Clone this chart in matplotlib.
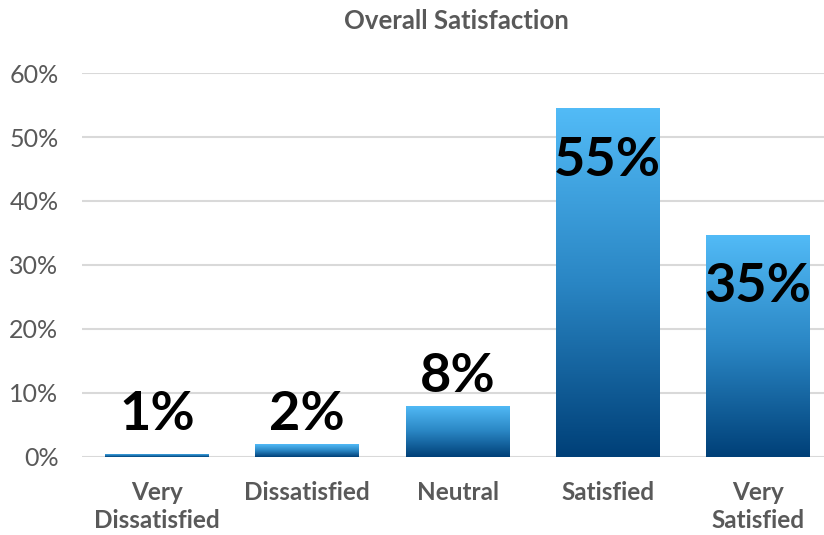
import numpy as np
import matplotlib
matplotlib.use("Agg")
import matplotlib.pyplot as plt
from matplotlib.colors import LinearSegmentedColormap

# data
categories = ["Very\nDissatisfied", "Dissatisfied", "Neutral", "Satisfied", "Very\nSatisfied"]
values = [0.005, 0.02, 0.08, 0.545, 0.347]
labels = ["1%", "2%", "8%", "55%", "35%"]
inside = [False, False, False, True, True]
yticks = [0, 0.1, 0.2, 0.3, 0.4, 0.5, 0.6]

plt.rcParams['font.family'] = ['Lato', 'DejaVu Sans']
gray = '#595959'

fig = plt.figure(figsize=(8.24, 5.35), dpi=100)
ax = fig.add_axes([82 / 824, 78 / 535, 742 / 824, 384 / 535])

cmap = LinearSegmentedColormap.from_list('blu', ['#004078', '#2a86c4', '#52bbf7'])
grad = np.linspace(0, 1, 256).reshape(-1, 1)

x = np.arange(len(categories))
bars = ax.bar(x, values, width=0.69, color='none', zorder=3)
for b in bars:
    x0, y0 = b.get_x(), b.get_y()
    w, h = b.get_width(), b.get_height()
    im = ax.imshow(grad, cmap=cmap, aspect='auto', origin='lower',
                   extent=[x0, x0 + w, y0, y0 + h], zorder=3)
    im.set_clip_path(b)

for xi, v, lab, ins in zip(x, values, labels, inside):
    if ins:
        ax.text(xi, v - 0.043, lab, ha='center', va='top', fontsize=39,
                fontweight='bold', color='black', zorder=5)
    else:
        ax.text(xi, max(v, 0.02) + 0.022, lab, ha='center', va='baseline', fontsize=39,
                fontweight='bold', color='black', zorder=5)

ax.set_xlim(-0.5, 4.44)
ax.set_ylim(0, 0.6)
ax.set_yticks(yticks)
ax.set_yticklabels([f"{int(round(t * 100))}%" for t in yticks])
ax.set_xticks(x)
ax.set_xticklabels(categories, fontweight='bold', linespacing=1.3)
ax.tick_params(axis='y', length=0, labelsize=18, labelcolor=gray, pad=17)
ax.tick_params(axis='x', length=0, labelsize=17.5, labelcolor=gray, pad=17)
ax.grid(axis='y', color='#d9d9d9', linewidth=1.5, zorder=0)
for s in ax.spines.values():
    s.set_visible(False)
ax.set_axisbelow(True)

fig.text(456 / 824, 1 - 21 / 535, "Overall Satisfaction", ha='center', va='center',
         fontsize=18.5, fontweight='bold', color=gray)

fig.savefig('out.png', dpi=100)
